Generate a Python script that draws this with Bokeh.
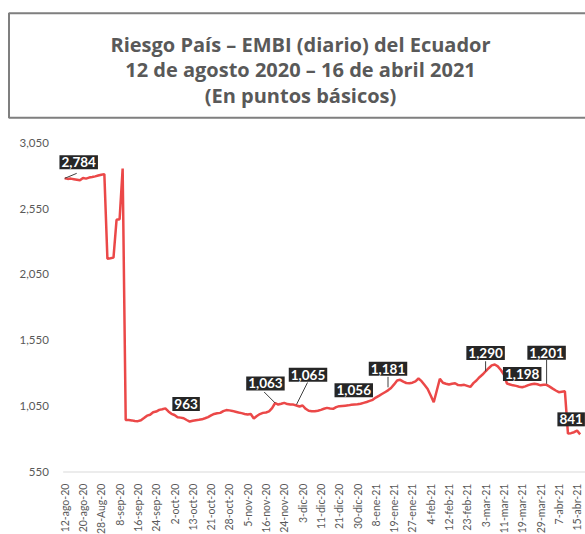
from math import pi
from bokeh.plotting import figure
from bokeh.models import Range1d, Label
from bokeh.core.properties import value
from bokeh.embed import file_html
from bokeh.resources import INLINE

# ---------------- data ----------------
title_lines = ["Riesgo País – EMBI (diario) del Ecuador",
               "12 de agosto 2020 – 16 de abril 2021",
               "(En puntos básicos)"]

embi = [
    2780, 2776, 2778, 2774, 2770, 2766, 2783, 2778, 2786, 2790,
    2795, 2802, 2808, 2812, 2170, 2173, 2178, 2465, 2470, 2855,
    945, 944, 942, 937, 936, 943, 960, 978, 985, 1004,
    1009, 1022, 1027, 1033, 1010, 992, 983, 966, 963, 958,
    945, 933, 939, 943, 946, 950, 958, 967, 980, 991,
    996, 999, 1012, 1020, 1018, 1014, 1008, 1002, 997, 991,
    986, 990, 956, 975, 990, 999, 1002, 1010, 1035, 1074,
    1062, 1068, 1075, 1066, 1062, 1062, 1055, 1047, 1055, 1030,
    1015, 1012, 1011, 1015, 1022, 1030, 1037, 1033, 1030, 1043,
    1050, 1052, 1054, 1056, 1060, 1062, 1064, 1068, 1075, 1082,
    1090, 1098, 1115, 1128, 1142, 1156, 1170, 1188, 1215, 1245,
    1250, 1236, 1226, 1224, 1228, 1238, 1260, 1240, 1210, 1180,
    1131, 1080, 1169, 1258, 1228, 1220, 1214, 1220, 1224, 1210,
    1208, 1212, 1204, 1196, 1225, 1245, 1270, 1290, 1315, 1338,
    1360, 1366, 1352, 1325, 1290, 1222, 1215, 1208, 1204, 1198,
    1194, 1200, 1210, 1216, 1220, 1216, 1208, 1212, 1212, 1198,
    1183, 1169, 1156, 1160, 1163, 842, 845, 852, 864, 836,
]

x_tick_labels = ["12-ago-20", "20-ago-20", "28-Aug-20", "8-sep-20", "16-sep-20",
                 "24-sep-20", "2-oct-20", "13-oct-20", "21-oct-20", "28-oct-20",
                 "5-nov-20", "16-nov-20", "24-nov-20", "3-dic-20", "11-dic-20",
                 "21-dic-20", "30-dic-20", "8-ene-21", "19-ene-21", "27-ene-21",
                 "4-feb-21", "12-feb-21", "23-feb-21", "3-mar-21", "11-mar-21",
                 "19-mar-21", "29-mar-21", "7-abr-21", "15-abr-21"]
x_tick_step = 6
y_ticks = [550, 1050, 1550, 2050, 2550, 3050]

annot_idx = [0, 38, 69, 76, 101, 106, 138, 150, 158, 169]
annot_text = ["2,784", "963", "1,063", "1,065", "1,056", "1,181",
              "1,290", "1,198", "1,201", "841"]

# ---------------- layout / style ----------------
annot_dx = [14, 5.5, -9.7, 11.5, -19, 0, 0, 0, 0, -9]
annot_dy = [16, 13.7, 19.6, 30.8, 9.7, 21.7, 18.2, 13.3, 32, 15]
# leaders: (annotation number, start dy, end dx, end dy) in pixels
leaders = [(0, 0, 12, 5), (2, 0, -11, 11), (3, 1, 11, 23),
           (5, 3, 0, 13.5), (6, 0, 0, 10), (8, 1, 0, 25)]

W, H = 585, 534
X0_PX, DX_PX = 64.2, 3.05           # pixel of first category, pixels per category
YLO_PX, YHI_PX = 471.5, 142.3       # pixel rows of the axis min / max
GREY = "#595959"
FONT = "Lato"
TITLE_FONT = "Open Sans"

u = (y_ticks[-1] - y_ticks[0]) / (YLO_PX - YHI_PX)   # data units per pixel
n = len(embi)

p = figure(width=W, height=H,
           x_range=Range1d(-X0_PX / DX_PX, (W - X0_PX) / DX_PX),
           y_range=Range1d(y_ticks[0] - (H - YLO_PX) * u, y_ticks[-1] + YHI_PX * u),
           x_axis_type=None, y_axis_type=None,
           output_backend="svg", toolbar_location=None, min_border=0)
p.extra_x_ranges = {"px": Range1d(0, W)}
p.extra_y_ranges = {"px": Range1d(H, 0)}
p.outline_line_color = None
p.grid.visible = False
p.background_fill_color = "white"

# ---------------- title block ----------------
p.quad(left=[8.5], right=[W + 30], top=[12.7], bottom=[117.3],
       fill_color=None, line_color="#7f7f7f", line_width=2,
       x_range_name="px", y_range_name="px")
p.text(x=[300, 300, 300], y=[44, 69.3, 94.6], text=title_lines,
       text_font=value(TITLE_FONT), text_font_style="bold", text_font_size="20px",
       text_color=GREY, text_align="center", text_baseline="alphabetic",
       x_range_name="px", y_range_name="px")

# ---------------- axes ----------------
p.segment(x0=[-0.5], x1=[n + 5], y0=[y_ticks[0]], y1=[y_ticks[0]],
          line_color="#d9d9d9", line_width=1)
p.text(x=[48.3] * len(y_ticks), y=y_ticks, text=[f"{v:,}" for v in y_ticks],
       text_font=value(FONT), text_font_size="11.5px", text_color=GREY,
       text_align="right", text_baseline="middle", x_range_name="px")
p.text(x=[i * x_tick_step for i in range(len(x_tick_labels))],
       y=[y_ticks[0] - 11.6 * u] * len(x_tick_labels), text=x_tick_labels,
       angle=pi / 2, text_font=value(FONT), text_font_size="10.5px",
       text_color=GREY, text_align="right", text_baseline="middle")

# ---------------- series ----------------
p.line(x=list(range(n)), y=embi, line_color="#EB4848", line_width=2.5)

# leader lines
x0s, y0s, x1s, y1s = [], [], [], []
for k, dy0, dx1, dy1 in leaders:
    i = annot_idx[k]
    x0s.append(i)
    y0s.append(embi[i] + dy0 * u)
    x1s.append(i + dx1 / DX_PX)
    y1s.append(embi[i] + dy1 * u)
p.segment(x0=x0s, y0=y0s, x1=x1s, y1=y1s, line_color="#404040", line_width=1)

for i, t, dx, dy in zip(annot_idx, annot_text, annot_dx, annot_dy):
    p.add_layout(Label(x=i, y=embi[i], text=t, x_offset=dx, y_offset=dy,
                       text_align="center", text_baseline="middle",
                       text_font=FONT, text_font_style="bold",
                       text_font_size="13.5px", text_color="white",
                       background_fill_color="#262626", background_fill_alpha=1.0,
                       padding=2))

open("out.html", "w").write(file_html(p, INLINE))
